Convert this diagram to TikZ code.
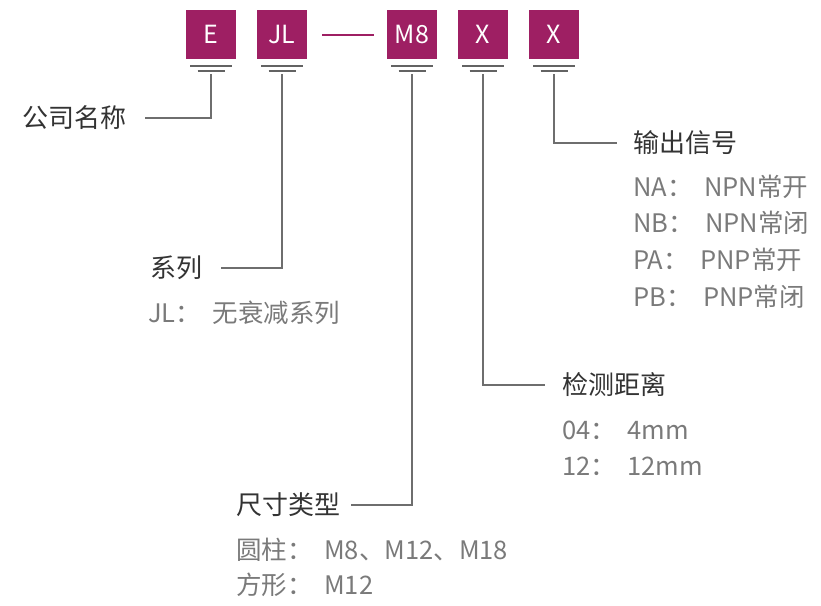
\documentclass[tikz,border=0pt]{standalone}
\usepackage{fontspec}
\setmainfont{Noto Sans CJK SC}
\usepackage{tikz}
\usetikzlibrary{positioning, calc}
\definecolor{codered}{HTML}{9E1F63}
\definecolor{headgray}{HTML}{333333}
\definecolor{subgray}{HTML}{7A7A7A}
\definecolor{linegray}{HTML}{6E6E6E}
\newcommand{\gap}{\hspace{0.45em}}
\tikzset{
  codebox/.style={rectangle, fill=codered, minimum width=50pt, minimum height=49pt,
                  inner sep=0pt, text=white, font=\fontsize{25}{27}\selectfont},
  codebar/.style={draw=linegray!90!black, line width=2.2pt},
  joinline/.style={draw=codered, line width=2pt},
  leader/.style={draw=linegray, line width=1.1pt},
  headtxt/.style={anchor=west, inner sep=0pt, text=headgray, font=\fontsize{26}{28}\selectfont},
  subtxt/.style={anchor=west, inner sep=0pt, text=subgray, font=\fontsize{25.5}{27}\selectfont},
}

\begin{document}
\begin{tikzpicture}[x=1pt,y=-1pt]
      \useasboundingbox (0,0) rectangle (821,605);

      % Code boxes
      \node[codebox] (bE)  at (211,34.5) {E};
      \node[codebox] (bJL) at (282,34.5) {JL};
      \node[codebox] (bM8) at (412,34.5) {M8};
      \node[codebox] (bXa) at (483,34.5) {X};
      \node[codebox] (bXb) at (554,34.5) {X};

      % Dash between JL and M8
      \draw[joinline] ([xshift=15pt]bJL.east) -- ([xshift=-13pt]bM8.west);

      % Bars under the boxes
      \foreach \b in {bE,bJL,bM8,bXa,bXb} {
        \draw[codebar] ([xshift=-21pt,yshift=-7pt]\b.south) -- ([xshift=21pt,yshift=-7pt]\b.south);
        \draw[codebar] ([xshift=-13.5pt,yshift=-12pt]\b.south) -- ([xshift=13.5pt,yshift=-12pt]\b.south);
      }

      % Headings
      \node[headtxt] (lCo)   at (22,118)  {公司名称};
      \node[headtxt] (lSer)  at (150,268) {系列};
      \node[headtxt] (lSize) at (236,505) {尺寸类型};
      \node[headtxt] (lDist) at (562,385) {检测距离};
      \node[headtxt] (lOut)  at (633,143) {输出信号};

      % Options
      \node[subtxt] (sSer)   at (148,313) {JL：\gap 无衰减系列};
      \node[subtxt] (sSizeA) at (236,550) {圆柱：\gap M8、M12、M18};
      \node[subtxt] (sSizeB) at (236,585) {方形：\gap M12};
      \node[subtxt] (sDistA) at (562,430) {04：\gap 4mm};
      \node[subtxt] (sDistB) at (562,466) {12：\gap 12mm};
      \node[subtxt] (sOutA)  at (633,187) {NA：\gap NPN常开};
      \node[subtxt] (sOutB)  at (633,223) {NB：\gap NPN常闭};
      \node[subtxt] (sOutC)  at (633,260) {PA：\gap PNP常开};
      \node[subtxt] (sOutD)  at (633,297) {PB：\gap PNP常闭};

      % Leaders
      \draw[leader] ([yshift=-15pt]bE.south)  |- ([xshift=19pt]lCo.east);
      \draw[leader] ([yshift=-15pt]bJL.south) |- ([xshift=19pt]lSer.east);
      \draw[leader] ([yshift=-15pt]bM8.south) |- ([xshift=11pt]lSize.east);
      \draw[leader] ([yshift=-15pt]bXa.south) |- ([xshift=-17pt]lDist.west);
      \draw[leader] ([yshift=-15pt]bXb.south) |- ([xshift=-16pt]lOut.west);

\end{tikzpicture}
\end{document}
